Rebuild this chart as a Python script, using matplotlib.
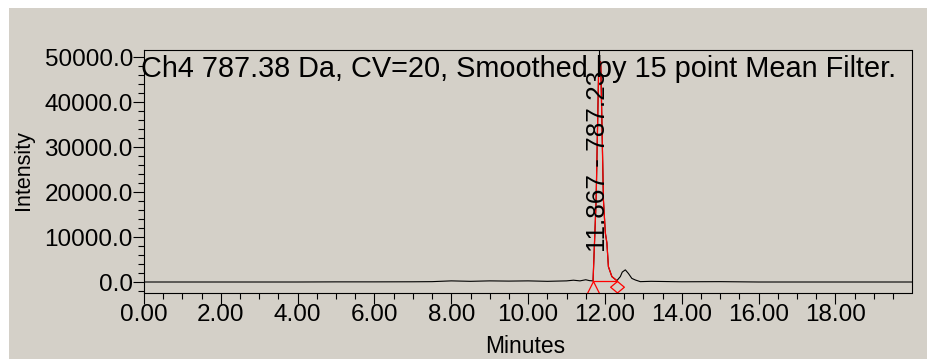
import matplotlib.pyplot as plt
import matplotlib.patches as mpatches
from matplotlib.path import Path
from matplotlib.ticker import MultipleLocator, FormatStrFormatter

plt.rcParams['font.family'] = ['Liberation Sans', 'DejaVu Sans']

# chromatogram trace (minutes, intensity)
trace_t = [0.0, 1.0, 2.0, 3.0, 4.0, 5.0, 6.0, 7.0, 7.5, 8.0, 8.5, 9.0, 9.5,
           10.0, 10.5, 11.0, 11.18, 11.35, 11.5, 11.6, 11.69, 11.77, 11.84,
           11.89, 11.96, 12.01, 12.05, 12.09, 12.18, 12.31, 12.4, 12.45, 12.53,
           12.61, 12.7, 12.79, 12.92, 13.2, 13.6, 14.0, 15.0, 16.0, 18.0, 19.98]
trace_i = [0, 0, 0, 0, 0, 30, 30, 50, 80, 250, 150, 250, 200,
           250, 150, 250, 400, 250, 500, 300, 250, 18200, 48900,
           48900, 18200, 10900, 8700, 3400, 1200, 300, 1200, 2200, 2700,
           1900, 800, 450, 80, 150, 100, 50, 80, 0, 0, 0]

# integrated peak
peak_t = [11.69, 11.77, 11.84, 11.89, 11.96, 12.01, 12.05, 12.09, 12.18, 12.31]
peak_i = [250, 18200, 48900, 48900, 18200, 10900, 8700, 3400, 1200, 300]
peak_start = 11.69
peak_end = 12.31
baseline_i = 220
apex_t = 11.867
apex_i = 48900
peak_label = '11.867 - 787.23'

title = 'Ch4 787.38 Da, CV=20, Smoothed by 15 point Mean Filter.'

bg = '#d4d0c8'
W, H = 927, 359
fig = plt.figure(figsize=(W / 100, H / 100), dpi=100, facecolor='white')
fig.patches.append(mpatches.Rectangle((9 / W, 0), 1, 1 - 8 / H, transform=fig.transFigure,
                                      facecolor=bg, edgecolor='none', zorder=-10))

ax = fig.add_axes([144 / W, 1 - 293 / H, (911.5 - 144) / W, (293 - 50) / H])
ax.set_facecolor(bg)
ax.set_xlim(0, 19.98)
ax.set_ylim(-2444, 51556)

ax.plot(trace_t, trace_i, color='black', lw=0.8)
ax.plot(peak_t, peak_i, color='red', lw=0.9)
ax.plot([peak_start, peak_end], [baseline_i, baseline_i], color='red', lw=0.9)

# start / end markers of the integration
tri = Path([(-0.5, -1), (0, 0), (0.5, -1)], [Path.MOVETO, Path.LINETO, Path.LINETO])
dia = Path([(0, 0), (0.6, -0.5), (0, -1), (-0.6, -0.5), (0, 0)],
           [Path.MOVETO, Path.LINETO, Path.LINETO, Path.LINETO, Path.CLOSEPOLY])
ax.plot([peak_start], [baseline_i], marker=tri, ms=18, mfc='none', mec='red', mew=0.9,
        clip_on=False)
ax.plot([peak_end], [baseline_i], marker=dia, ms=16.5, mfc='none', mec='red', mew=0.9,
        clip_on=False)

ax.vlines(apex_t - 0.02, apex_i, 51556, color='black', lw=0.8)
ax.text(apex_t - 0.06, 6700, peak_label, rotation=90, ha='center', va='bottom',
        fontsize=18.8)

ax.text(-0.004, 0.89, title, transform=ax.transAxes, ha='left', va='baseline',
        fontsize=20.8)

ax.xaxis.set_major_locator(MultipleLocator(2))
ax.xaxis.set_minor_locator(MultipleLocator(0.5))
ax.yaxis.set_major_locator(MultipleLocator(10000))
ax.yaxis.set_minor_locator(MultipleLocator(2000))
ax.xaxis.set_major_formatter(FormatStrFormatter('%.2f'))
ax.yaxis.set_major_formatter(FormatStrFormatter('%.1f'))
ax.tick_params(which='major', length=8, width=0.8, labelsize=17.5, direction='out')
ax.tick_params(which='minor', length=4, width=0.8, direction='out')
ax.tick_params(axis='y', pad=0)
ax.tick_params(axis='x', pad=0)
for s in ax.spines.values():
    s.set_linewidth(0.8)

fig.text(23 / W, 1 - 170 / H, 'Intensity', rotation=90, ha='center', va='center',
         fontsize=15.5)
fig.text(525 / W, 1 - 353 / H, 'Minutes', ha='center', va='baseline', fontsize=16.5)

fig.savefig('out.png', dpi=100, facecolor=fig.get_facecolor())
